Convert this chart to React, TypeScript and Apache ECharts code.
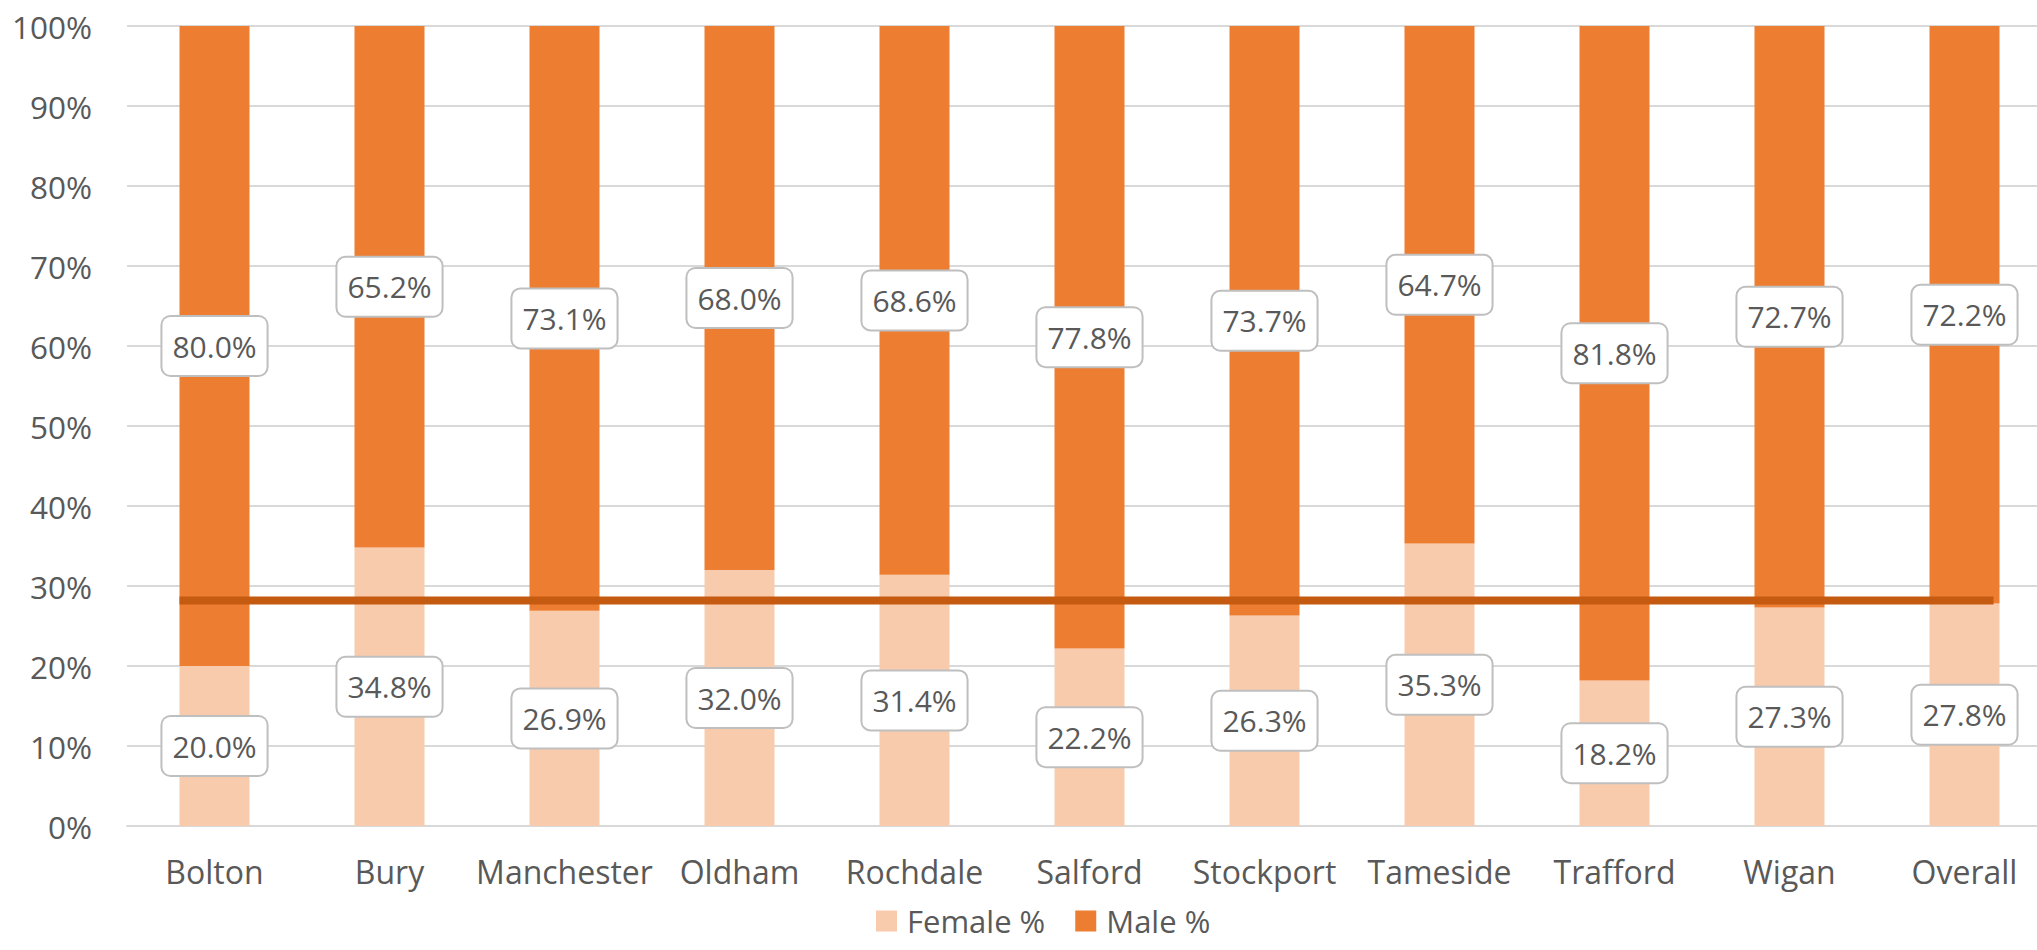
import React, { useEffect, useRef } from "react";
import * as echarts from "echarts";

const categories = ["Bolton", "Bury", "Manchester", "Oldham", "Rochdale", "Salford", "Stockport", "Tameside", "Trafford", "Wigan", "Overall"];
const femalePct = [20.0, 34.8, 26.9, 32.0, 31.4, 22.2, 26.3, 35.3, 18.2, 27.3, 27.8];
const malePct = [80.0, 65.2, 73.1, 68.0, 68.6, 77.8, 73.7, 64.7, 81.8, 72.7, 72.2];
const referenceLine = 28.2;
const yTicks = [0, 100, 10]; // min, max, interval

const FONT = "'Open Sans', Lato, sans-serif";
const TEXT = "#595959";
const BAR_W = 70;

export default function App() {
  const ref = useRef<HTMLDivElement>(null);
  useEffect(() => {
    if (!ref.current) return;
    const chart = echarts.init(ref.current, undefined, { renderer: "svg" });
    const label = {
      show: true,
      position: "inside",
      formatter: (p: any) => `${Number(p.value).toFixed(1)}%`,
      color: TEXT,
      fontFamily: FONT,
      fontSize: 30,
      lineHeight: 38,
      backgroundColor: "#ffffff",
      borderColor: "#BFBFBF",
      borderWidth: 2,
      borderRadius: 8,
      padding: [10, 10],
    };
    chart.setOption({
      animation: false,
      textStyle: { fontFamily: FONT },
      grid: { left: 127, right: 0, top: 26, bottom: 124, containLabel: false },
      legend: {
        left: 871,
        top: 898,
        itemWidth: 21,
        itemHeight: 21,
        itemGap: 30,
        icon: "rect",
        textStyle: { color: TEXT, fontSize: 31, fontFamily: FONT, lineHeight: 36, padding: [0, 0, 0, 5] },
        data: ["Female %", "Male %"],
      },
      xAxis: {
        type: "category",
        data: categories,
        axisLine: { show: true, lineStyle: { color: "#D9D9D9", width: 2 } },
        axisTick: { show: false },
        axisLabel: { color: TEXT, fontSize: 32, fontFamily: FONT, margin: 29, interval: 0 },
      },
      yAxis: {
        type: "value",
        min: yTicks[0],
        max: yTicks[1],
        interval: yTicks[2],
        axisLine: { show: false },
        axisTick: { show: false },
        splitLine: { lineStyle: { color: "#D9D9D9", width: 2 } },
        axisLabel: { color: TEXT, fontSize: 31.5, fontFamily: FONT, margin: 35, formatter: "{value}%" },
      },
      series: [
        {
          name: "Female %",
          type: "bar",
          stack: "total",
          barWidth: BAR_W,
          data: femalePct,
          itemStyle: { color: "#F8CBAD" },
          label,
          z: 2,
        },
        {
          name: "Male %",
          type: "bar",
          stack: "total",
          barWidth: BAR_W,
          data: malePct,
          itemStyle: { color: "#ED7D31" },
          label,
          z: 2,
        },
        {
          name: "ref",
          type: "custom",
          z: 5,
          data: [[0, referenceLine]],
          renderItem: (params: any, api: any) => {
            const v = api.value(1);
            const p0 = api.coord([0, v]);
            const p1 = api.coord([categories.length - 1, v]);
            return {
              type: "line",
              shape: { x1: p0[0] - BAR_W / 2, y1: p0[1], x2: p1[0] + BAR_W / 2 - 6, y2: p1[1] },
              style: { stroke: "#C55A11", lineWidth: 8 },
            };
          },
          silent: true,
        },
      ],
    });
    return () => chart.dispose();
  }, []);
  return (
    <div style={{ position: "fixed", left: 0, top: 0, width: 2037, height: 950, overflow: "hidden", background: "#fff" }}>
      <div ref={ref} style={{ width: 2052, height: 950 }} />
    </div>
  );
}
